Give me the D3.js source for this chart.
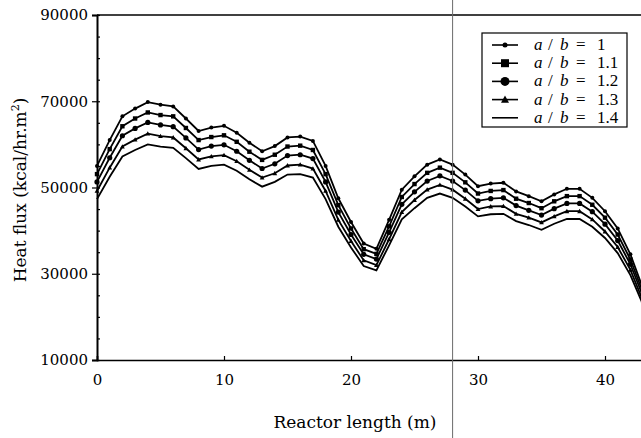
<!DOCTYPE html>
<html>
<head>
<meta charset="utf-8">
<script src="https://cdn.jsdelivr.net/npm/d3@7"></script>
<style>
  body { margin: 0; background: white; }
  svg { display: block; }
</style>
</head>
<body>
<svg width="641" height="438"></svg>
<script>
// reactor length in m, one point every metre
const lengths = d3.range(0, 44);

const seriesNames = ['1', '1.1', '1.2', '1.3', '1.4'];

const flux1 = [55000, 61000, 66500, 68300, 69800, 69200, 68800, 66000, 63100, 63900, 64300, 62700, 60400, 58400, 59600, 61600, 61800, 60800, 55000, 47500, 42000, 37000, 35800, 42500, 49500, 52600, 55300, 56500, 55300, 53000, 50300, 50900, 51100, 49100, 48000, 46800, 48400, 49700, 49700, 47600, 44500, 40500, 34500, 26500];
const flux11 = [53100, 58900, 64200, 66000, 67400, 66800, 66500, 63800, 61000, 61700, 62100, 60600, 58300, 56400, 57600, 59500, 59700, 58700, 53100, 45900, 40500, 35700, 34600, 41000, 47800, 50800, 53400, 54600, 53400, 51200, 48600, 49200, 49400, 47400, 46400, 45200, 46800, 48000, 48000, 46000, 43000, 39100, 33300, 25600];
const flux12 = [51300, 56900, 62000, 63700, 65100, 64500, 64100, 61500, 58800, 59600, 59900, 58400, 56300, 54400, 55500, 57400, 57600, 56700, 51300, 44300, 39100, 34500, 33400, 39600, 46100, 49000, 51500, 52700, 51500, 49400, 46900, 47400, 47600, 45800, 44700, 43600, 45100, 46300, 46300, 44400, 41500, 37700, 32200, 24700];
const flux13 = [49200, 54600, 59500, 61100, 62500, 61900, 61600, 59100, 56500, 57200, 57500, 56100, 54100, 52300, 53300, 55100, 55300, 54400, 49200, 42500, 37600, 33100, 32000, 38000, 44300, 47100, 49500, 50600, 49500, 47400, 45000, 45600, 45700, 43900, 43000, 41900, 43300, 44500, 44500, 42600, 39800, 36200, 30900, 23700];
const flux14 = [47300, 52500, 57200, 58700, 60000, 59500, 59200, 56800, 54300, 55000, 55300, 53900, 51900, 50200, 51300, 53000, 53100, 52300, 47300, 40900, 36100, 31800, 30800, 36600, 42600, 45200, 47600, 48600, 47600, 45600, 43300, 43800, 43900, 42200, 41300, 40200, 41600, 42700, 42700, 40900, 38300, 34800, 29700, 22800];

const allFlux = [flux1, flux11, flux12, flux13, flux14];
const markers = ['dot', 'square', 'circle', 'triangle', 'none'];

const xTicks = [0, 10, 20, 30, 40];
const yTicks = [10000, 30000, 50000, 70000, 90000];

const width = 641;
const height = 438;
const plotLeft = 97, plotTop = 15, plotBottom = 360;

const svg = d3.select('svg');

const x = d3.scaleLinear().domain([0, 45]).range([plotLeft, plotLeft + 45 * 12.7]);
const y = d3.scaleLinear().domain([10000, 90000]).range([plotBottom, plotTop]);

const plot = svg.append('g');

// thin fold line of the scanned page
svg.append('line')
    .attr('x1', x(28)).attr('x2', x(28))
    .attr('y1', 0).attr('y2', height)
    .attr('stroke', '#6a6a6a')
    .attr('stroke-width', 1);

// frame: top line runs off the right edge
plot.append('line')
    .attr('x1', plotLeft).attr('x2', width)
    .attr('y1', plotTop).attr('y2', plotTop)
    .attr('stroke', 'black').attr('stroke-width', 1.6);

// axes
const yAxis = d3.axisLeft(y).tickValues(yTicks).tickSize(5).tickPadding(4)
    .tickFormat(d3.format('d'));
const yMinor = d3.axisRight(y).tickValues(d3.range(10000, 90001, 5000)).tickSize(3).tickFormat('');
const xAxis = d3.axisBottom(x).tickValues(xTicks).tickSize(-4).tickPadding(14);

const gy = plot.append('g').attr('transform', `translate(${plotLeft},0)`).call(yAxis);
plot.append('g').attr('transform', `translate(${plotLeft},0)`).call(yMinor)
    .call(g => g.select('.domain').remove());
const gx = plot.append('g').attr('transform', `translate(0,${plotBottom})`).call(xAxis);

gy.select('.domain').attr('stroke-width', 2);
gx.select('.domain').attr('stroke-width', 1.6);
plot.selectAll('.tick line').attr('stroke', 'black').attr('stroke-width', 1.2);
plot.selectAll('.tick text')
    .attr('font-family', 'DejaVu Serif')
    .attr('font-size', 15)
    .attr('fill', 'black');

// curves
const line = d3.line()
    .x((d, i) => x(lengths[i]))
    .y(d => y(d));

const curves = plot.append('g');

allFlux.forEach((vals, k) => {
    curves.append('path')
        .datum(vals)
        .attr('d', line)
        .attr('fill', 'none')
        .attr('stroke', 'black')
        .attr('stroke-width', 1.8);
});

const drawMarker = (g, type, cx, cy, s) => {
    if (type === 'dot' || type === 'circle') {
        g.append('circle').attr('cx', cx).attr('cy', cy).attr('r', s).attr('fill', 'black');
    } else if (type === 'square') {
        g.append('rect').attr('x', cx - s).attr('y', cy - s)
            .attr('width', 2 * s).attr('height', 2 * s).attr('fill', 'black');
    } else if (type === 'triangle') {
        g.append('path')
            .attr('d', `M${cx},${cy - s} L${cx + s},${cy + s * 0.8} L${cx - s},${cy + s * 0.8} Z`)
            .attr('fill', 'black');
    }
};

const plotSizes = { dot: 2, square: 2.2, circle: 2.6, triangle: 2.4 };
allFlux.forEach((vals, k) => {
    const type = markers[k];
    if (type === 'none') return;
    vals.forEach((v, i) => drawMarker(curves, type, x(lengths[i]), y(v), plotSizes[type]));
});

// legend
const legend = svg.append('g');
legend.append('rect')
    .attr('x', 482).attr('y', 33)
    .attr('width', 145).attr('height', 94)
    .attr('fill', 'white')
    .attr('stroke', 'black')
    .attr('stroke-width', 1.2);

const legendSizes = { dot: 2.5, square: 4, circle: 4.5, triangle: 4 };
seriesNames.forEach((name, k) => {
    const ry = 45 + k * 18.2;
    legend.append('line')
        .attr('x1', 492).attr('x2', 518)
        .attr('y1', ry).attr('y2', ry)
        .attr('stroke', 'black').attr('stroke-width', 1.6);
    if (markers[k] !== 'none') drawMarker(legend, markers[k], 505, ry, legendSizes[markers[k]]);

    const t = legend.append('text')
        .attr('y', ry + 5)
        .attr('font-family', 'Liberation Serif')
        .attr('font-size', 17)
        .attr('fill', 'black');
    t.append('tspan').attr('x', 534).attr('font-style', 'italic').text('a');
    t.append('tspan').attr('x', 548).text('/');
    t.append('tspan').attr('x', 560).attr('font-style', 'italic').text('b');
    t.append('tspan').attr('x', 576).text('=');
    t.append('tspan').attr('x', 597).text(name);
});

// axis titles
svg.append('text')
    .attr('x', 355).attr('y', 428)
    .attr('text-anchor', 'middle')
    .attr('font-family', 'DejaVu Serif')
    .attr('font-size', 17)
    .text('Reactor length (m)');

const yt = svg.append('text')
    .attr('transform', 'translate(26,190) rotate(-90)')
    .attr('text-anchor', 'middle')
    .attr('font-family', 'DejaVu Serif')
    .attr('font-size', 17);
yt.append('tspan').text('Heat flux (kcal/hr.m');
yt.append('tspan').attr('font-size', 11).attr('dy', -7).text('2');
yt.append('tspan').attr('dy', 7).text(')');
</script>
</body>
</html>
